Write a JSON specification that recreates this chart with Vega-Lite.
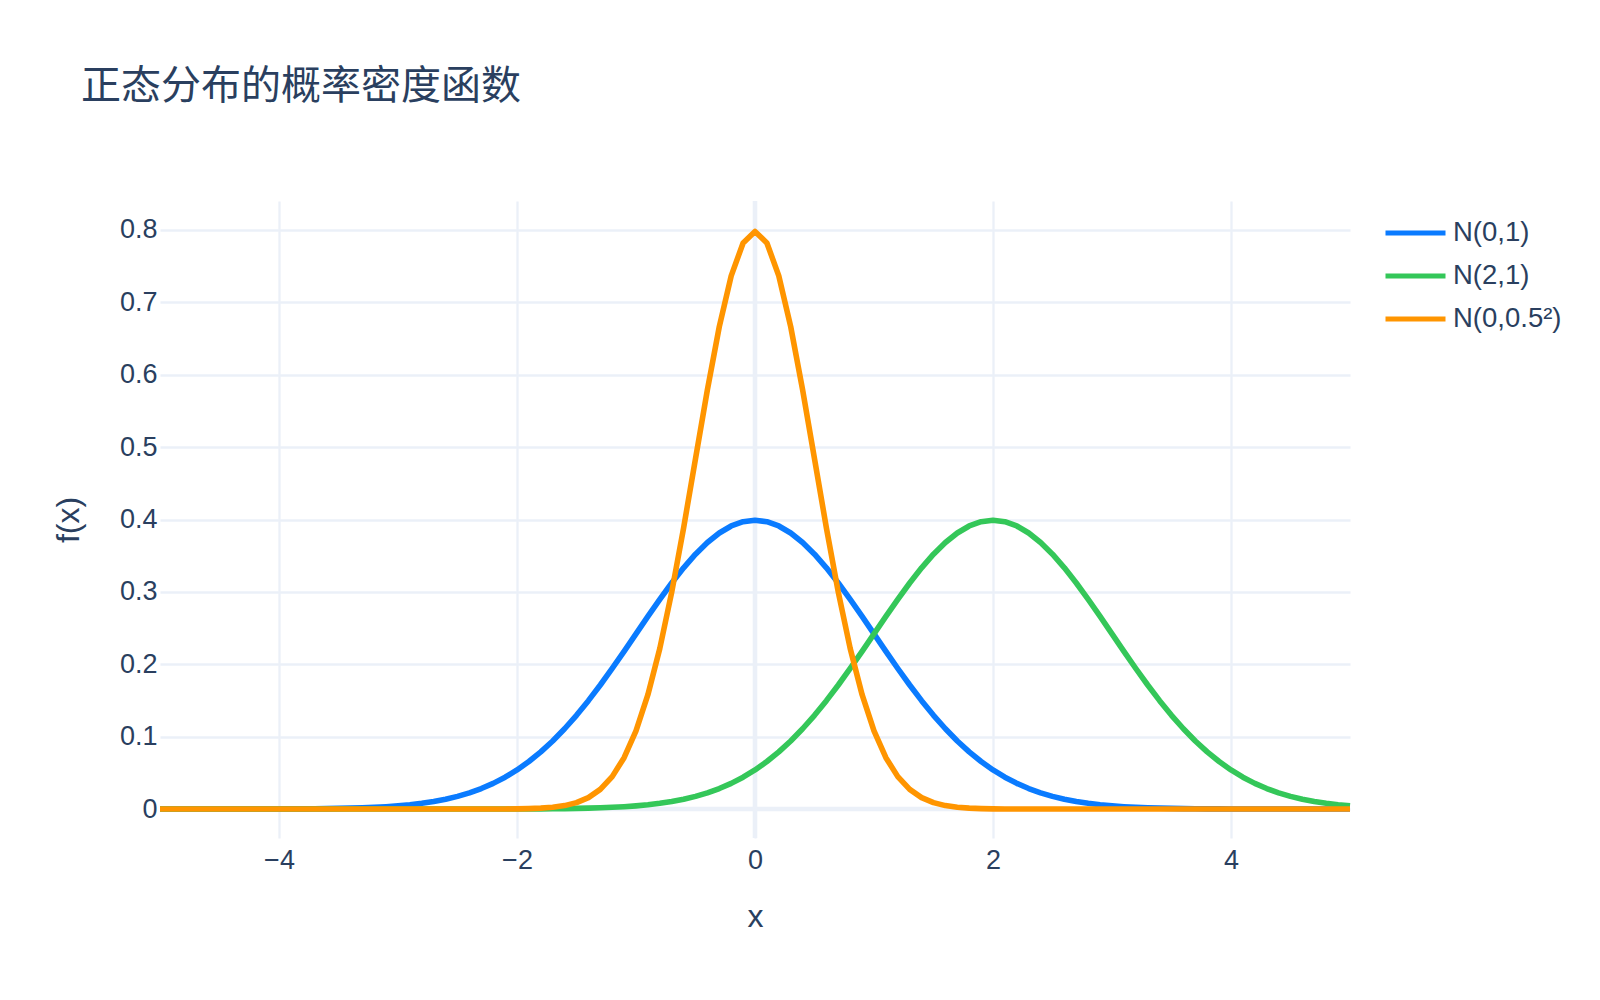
{
  "$schema": "https://vega.github.io/schema/vega-lite/v6.json",
  "width": 1190,
  "height": 637,
  "autosize": {"type": "none"},
  "padding": {"left": 160, "top": 201, "right": 250, "bottom": 162},
  "background": "white",
  "title": {
    "text": "正态分布的概率密度函数",
    "anchor": "start",
    "frame": "group",
    "dx": -79,
    "offset": 60,
    "baseline": "alphabetic",
    "font": "Noto Sans CJK SC",
    "fontSize": 40,
    "fontWeight": "normal",
    "color": "#2a3f5f"
  },
  "config": {
    "view": {"stroke": null},
    "font": "Liberation Sans",
    "axis": {
      "domain": false,
      "ticks": false,
      "grid": true,
      "gridColor": "#EBF0F8",
      "gridWidth": 2.3,
      "labelFont": "Liberation Sans",
      "labelFontSize": 27,
      "labelColor": "#2a3f5f",
      "titleFont": "Liberation Sans",
      "titleFontSize": 32,
      "titleFontWeight": "normal",
      "titleColor": "#2a3f5f"
    },
    "legend": {
      "labelFont": "Liberation Sans",
      "labelFontSize": 27.5,
      "labelColor": "#2a3f5f"
    }
  },
  "data": {
    "values": [
      {"x": -5.0, "a": 0, "b": 0, "c": 0},
      {"x": -4.9, "a": 0, "b": 0, "c": 0},
      {"x": -4.8, "a": 0, "b": 0, "c": 0},
      {"x": -4.7, "a": 0.00001, "b": 0, "c": 0},
      {"x": -4.6, "a": 0.00001, "b": 0, "c": 0},
      {"x": -4.5, "a": 0.00002, "b": 0, "c": 0},
      {"x": -4.4, "a": 0.00002, "b": 0, "c": 0},
      {"x": -4.3, "a": 0.00004, "b": 0, "c": 0},
      {"x": -4.2, "a": 0.00006, "b": 0, "c": 0},
      {"x": -4.1, "a": 0.00009, "b": 0, "c": 0},
      {"x": -4.0, "a": 0.00013, "b": 0, "c": 0},
      {"x": -3.9, "a": 0.0002, "b": 0, "c": 0},
      {"x": -3.8, "a": 0.00029, "b": 0, "c": 0},
      {"x": -3.7, "a": 0.00042, "b": 0, "c": 0},
      {"x": -3.6, "a": 0.00061, "b": 0, "c": 0},
      {"x": -3.5, "a": 0.00087, "b": 0, "c": 0},
      {"x": -3.4, "a": 0.00123, "b": 0, "c": 0},
      {"x": -3.3, "a": 0.00172, "b": 0, "c": 0},
      {"x": -3.2, "a": 0.00238, "b": 0, "c": 0},
      {"x": -3.1, "a": 0.00327, "b": 0, "c": 0},
      {"x": -3.0, "a": 0.00443, "b": 0, "c": 0},
      {"x": -2.9, "a": 0.00595, "b": 0, "c": 0},
      {"x": -2.8, "a": 0.00792, "b": 0, "c": 0},
      {"x": -2.7, "a": 0.01042, "b": 0.00001, "c": 0},
      {"x": -2.6, "a": 0.01358, "b": 0.00001, "c": 0},
      {"x": -2.5, "a": 0.01753, "b": 0.00002, "c": 0},
      {"x": -2.4, "a": 0.02239, "b": 0.00002, "c": 0.00001},
      {"x": -2.3, "a": 0.02833, "b": 0.00004, "c": 0.00002},
      {"x": -2.2, "a": 0.03547, "b": 0.00006, "c": 0.00005},
      {"x": -2.1, "a": 0.04398, "b": 0.00009, "c": 0.00012},
      {"x": -2.0, "a": 0.05399, "b": 0.00013, "c": 0.00027},
      {"x": -1.9, "a": 0.06562, "b": 0.0002, "c": 0.00058},
      {"x": -1.8, "a": 0.07895, "b": 0.00029, "c": 0.00122},
      {"x": -1.7, "a": 0.09405, "b": 0.00042, "c": 0.00246},
      {"x": -1.6, "a": 0.11092, "b": 0.00061, "c": 0.00476},
      {"x": -1.5, "a": 0.12952, "b": 0.00087, "c": 0.00886},
      {"x": -1.4, "a": 0.14973, "b": 0.00123, "c": 0.01584},
      {"x": -1.3, "a": 0.17137, "b": 0.00172, "c": 0.02716},
      {"x": -1.2, "a": 0.19419, "b": 0.00238, "c": 0.04478},
      {"x": -1.1, "a": 0.21785, "b": 0.00327, "c": 0.07094},
      {"x": -1.0, "a": 0.24197, "b": 0.00443, "c": 0.10798},
      {"x": -0.9, "a": 0.26609, "b": 0.00595, "c": 0.1579},
      {"x": -0.8, "a": 0.28969, "b": 0.00792, "c": 0.22184},
      {"x": -0.7, "a": 0.31225, "b": 0.01042, "c": 0.29946},
      {"x": -0.6, "a": 0.33322, "b": 0.01358, "c": 0.38838},
      {"x": -0.5, "a": 0.35207, "b": 0.01753, "c": 0.48394},
      {"x": -0.4, "a": 0.36827, "b": 0.02239, "c": 0.57938},
      {"x": -0.3, "a": 0.38139, "b": 0.02833, "c": 0.66644},
      {"x": -0.2, "a": 0.39104, "b": 0.03547, "c": 0.73654},
      {"x": -0.1, "a": 0.39695, "b": 0.04398, "c": 0.78208},
      {"x": 0.0, "a": 0.39894, "b": 0.05399, "c": 0.79788},
      {"x": 0.1, "a": 0.39695, "b": 0.06562, "c": 0.78208},
      {"x": 0.2, "a": 0.39104, "b": 0.07895, "c": 0.73654},
      {"x": 0.3, "a": 0.38139, "b": 0.09405, "c": 0.66644},
      {"x": 0.4, "a": 0.36827, "b": 0.11092, "c": 0.57938},
      {"x": 0.5, "a": 0.35207, "b": 0.12952, "c": 0.48394},
      {"x": 0.6, "a": 0.33322, "b": 0.14973, "c": 0.38838},
      {"x": 0.7, "a": 0.31225, "b": 0.17137, "c": 0.29946},
      {"x": 0.8, "a": 0.28969, "b": 0.19419, "c": 0.22184},
      {"x": 0.9, "a": 0.26609, "b": 0.21785, "c": 0.1579},
      {"x": 1.0, "a": 0.24197, "b": 0.24197, "c": 0.10798},
      {"x": 1.1, "a": 0.21785, "b": 0.26609, "c": 0.07094},
      {"x": 1.2, "a": 0.19419, "b": 0.28969, "c": 0.04478},
      {"x": 1.3, "a": 0.17137, "b": 0.31225, "c": 0.02716},
      {"x": 1.4, "a": 0.14973, "b": 0.33322, "c": 0.01584},
      {"x": 1.5, "a": 0.12952, "b": 0.35207, "c": 0.00886},
      {"x": 1.6, "a": 0.11092, "b": 0.36827, "c": 0.00476},
      {"x": 1.7, "a": 0.09405, "b": 0.38139, "c": 0.00246},
      {"x": 1.8, "a": 0.07895, "b": 0.39104, "c": 0.00122},
      {"x": 1.9, "a": 0.06562, "b": 0.39695, "c": 0.00058},
      {"x": 2.0, "a": 0.05399, "b": 0.39894, "c": 0.00027},
      {"x": 2.1, "a": 0.04398, "b": 0.39695, "c": 0.00012},
      {"x": 2.2, "a": 0.03547, "b": 0.39104, "c": 0.00005},
      {"x": 2.3, "a": 0.02833, "b": 0.38139, "c": 0.00002},
      {"x": 2.4, "a": 0.02239, "b": 0.36827, "c": 0.00001},
      {"x": 2.5, "a": 0.01753, "b": 0.35207, "c": 0},
      {"x": 2.6, "a": 0.01358, "b": 0.33322, "c": 0},
      {"x": 2.7, "a": 0.01042, "b": 0.31225, "c": 0},
      {"x": 2.8, "a": 0.00792, "b": 0.28969, "c": 0},
      {"x": 2.9, "a": 0.00595, "b": 0.26609, "c": 0},
      {"x": 3.0, "a": 0.00443, "b": 0.24197, "c": 0},
      {"x": 3.1, "a": 0.00327, "b": 0.21785, "c": 0},
      {"x": 3.2, "a": 0.00238, "b": 0.19419, "c": 0},
      {"x": 3.3, "a": 0.00172, "b": 0.17137, "c": 0},
      {"x": 3.4, "a": 0.00123, "b": 0.14973, "c": 0},
      {"x": 3.5, "a": 0.00087, "b": 0.12952, "c": 0},
      {"x": 3.6, "a": 0.00061, "b": 0.11092, "c": 0},
      {"x": 3.7, "a": 0.00042, "b": 0.09405, "c": 0},
      {"x": 3.8, "a": 0.00029, "b": 0.07895, "c": 0},
      {"x": 3.9, "a": 0.0002, "b": 0.06562, "c": 0},
      {"x": 4.0, "a": 0.00013, "b": 0.05399, "c": 0},
      {"x": 4.1, "a": 0.00009, "b": 0.04398, "c": 0},
      {"x": 4.2, "a": 0.00006, "b": 0.03547, "c": 0},
      {"x": 4.3, "a": 0.00004, "b": 0.02833, "c": 0},
      {"x": 4.4, "a": 0.00002, "b": 0.02239, "c": 0},
      {"x": 4.5, "a": 0.00002, "b": 0.01753, "c": 0},
      {"x": 4.6, "a": 0.00001, "b": 0.01358, "c": 0},
      {"x": 4.7, "a": 0.00001, "b": 0.01042, "c": 0},
      {"x": 4.8, "a": 0, "b": 0.00792, "c": 0},
      {"x": 4.9, "a": 0, "b": 0.00595, "c": 0},
      {"x": 5.0, "a": 0, "b": 0.00443, "c": 0}
    ]
  },
  "layer": [
    {
      "data": {"values": [{}]},
      "mark": {"type": "rule", "color": "#EBF0F8", "strokeWidth": 4.6},
      "encoding": {
        "y": {"datum": 0, "type": "quantitative", "title": "f(x)"}
      }
    },
    {
      "data": {"values": [{}]},
      "mark": {"type": "rule", "color": "#EBF0F8", "strokeWidth": 4.6},
      "encoding": {
        "x": {"datum": 0, "type": "quantitative", "title": "x"}
      }
    },
    {
      "transform": [{"fold": ["a", "b", "c"], "as": ["s", "y"]}],
      "mark": {"type": "line", "strokeWidth": 5.6, "strokeJoin": "round", "strokeCap": "butt"},
      "encoding": {
        "x": {
          "field": "x",
          "type": "quantitative",
          "title": "x",
          "scale": {"domain": [-5, 5], "nice": false, "zero": false},
          "axis": {"grid": true, "values": [-4, -2, 0, 2, 4], "format": "~g", "labelPadding": 9, "titlePadding": 28}
        },
        "y": {
          "field": "y",
          "type": "quantitative",
          "title": "f(x)",
          "scale": {"domain": [-0.04, 0.84], "nice": false, "zero": false},
          "axis": {"grid": true, "values": [0, 0.1, 0.2, 0.3, 0.4, 0.5, 0.6, 0.7, 0.8], "format": "~g", "labelPadding": 3, "titlePadding": 34}
        },
        "color": {
          "field": "s",
          "type": "nominal",
          "scale": {"domain": ["a", "b", "c"], "range": ["#0A7BFF", "#34C759", "#FF9500"]},
          "legend": {
            "title": null,
            "orient": "none",
            "legendX": 1223,
            "legendY": 11,
            "symbolType": "stroke",
            "symbolSize": 3600,
            "symbolStrokeWidth": 5,
            "labelOffset": 5,
            "clipHeight": 42,
            "rowPadding": 1,
            "labelExpr": "datum.label == 'a' ? 'N(0,1)' : datum.label == 'b' ? 'N(2,1)' : 'N(0,0.5²)'"
          }
        }
      }
    }
  ]
}
